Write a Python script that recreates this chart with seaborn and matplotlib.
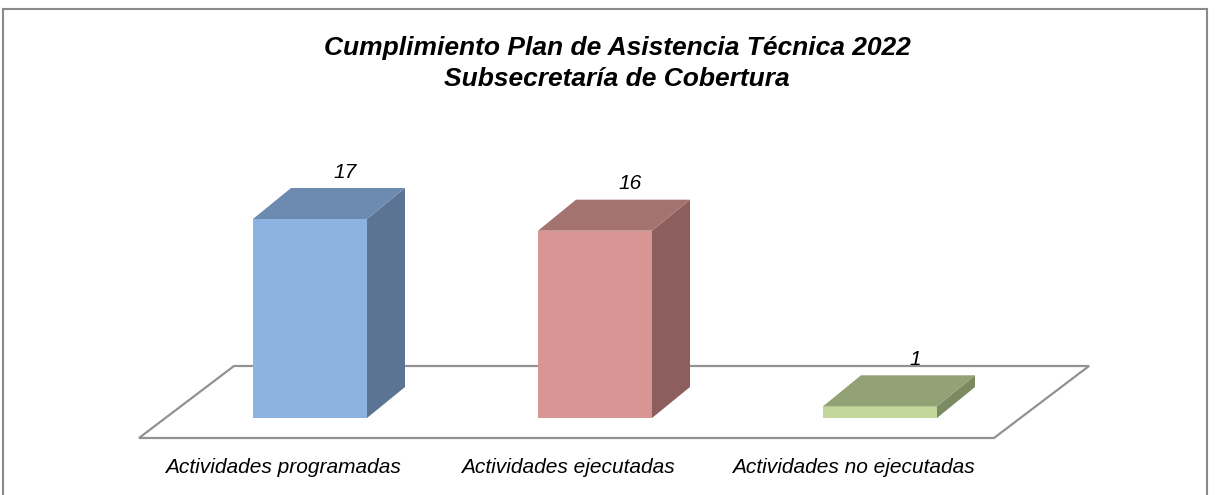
import matplotlib
matplotlib.use("Agg")
import matplotlib.pyplot as plt
import seaborn as sns
from matplotlib.patches import Polygon, Rectangle
from matplotlib.transforms import ScaledTranslation

# ---- data ----
categories = ["Actividades programadas", "Actividades ejecutadas", "Actividades no ejecutadas"]
values = [17, 16, 1]
front_colors = ["#8DB3E2", "#D99594", "#C3D69B"]
top_colors = ["#6D8AB0", "#A5736F", "#92A274"]
side_colors = ["#5B7494", "#8C5F5E", "#7C8A62"]
title_lines = ["Cumplimiento Plan de Asistencia Técnica 2022", "Subsecretaría de Cobertura"]

# ---- layout (pixels at dpi 100) ----
W, H, DPI = 1215, 495, 100
cat_step = 285.0          # px between category centers
first_center = 310.0      # px of first bar center
base_y = 418.0            # px from top for value 0
ppu = 199.0 / 17.0        # px per value unit
ymax = 20
depth_dx, depth_dy = 38.0, 31.0  # bar depth offset (px)

sns.set_theme(style="white")
plt.rcParams["font.family"] = ["Liberation Sans", "DejaVu Sans"]
plt.rcParams["text.color"] = "black"
plt.rcParams["xtick.color"] = "black"

fig = plt.figure(figsize=(W / DPI, H / DPI), dpi=DPI)
ax_left = first_center - cat_step / 2
ax_w = cat_step * len(categories)
ax_h = ppu * ymax
ax = fig.add_axes([ax_left / W, (H - base_y) / H, ax_w / W, ax_h / H])

sns.barplot(x=categories, y=values, hue=categories, palette=front_colors,
            width=0.4, saturation=1, legend=False, ax=ax, zorder=3, linewidth=0)
ax.set_xlim(-0.5, len(categories) - 0.5)
ax.set_ylim(0, ymax)

ddx = depth_dx / cat_step
ddy = depth_dy / ppu

# floor parallelogram
floor_pad = 0.1
fx0, fx1 = -0.5 - floor_pad, len(categories) - 0.5 - floor_pad
fy = -20.0 / ppu
fbx, fby = 95.0 / cat_step, 72.0 / ppu
floor = Polygon([(fx0, fy), (fx1, fy), (fx1 + fbx, fy + fby), (fx0 + fbx, fy + fby)],
                closed=True, fill=False, edgecolor="#929292", lw=1.6,
                clip_on=False, zorder=1)
ax.add_patch(floor)

# 3D faces
for p, tc, sc in zip(ax.patches[:len(values)], top_colors, side_colors):
    x0, w, h = p.get_x(), p.get_width(), p.get_height()
    side = Polygon([(x0 + w, 0), (x0 + w, h), (x0 + w + ddx, h + ddy), (x0 + w + ddx, ddy)],
                   closed=True, facecolor=sc, edgecolor="none", clip_on=False, zorder=3)
    top = Polygon([(x0, h), (x0 + w, h), (x0 + w + ddx, h + ddy), (x0 + ddx, h + ddy)],
                  closed=True, facecolor=tc, edgecolor="none", clip_on=False, zorder=3)
    ax.add_patch(side)
    ax.add_patch(top)
    p.set_clip_on(False)

# value labels
lab_tr = ax.transData + ScaledTranslation(0.35, 0.47, fig.dpi_scale_trans)
for i, v in enumerate(values):
    ax.text(i, v, str(v), transform=lab_tr, ha="center", va="center",
            fontsize=15, fontstyle="italic", color="black", clip_on=False)

# axes styling
for s in ax.spines.values():
    s.set_visible(False)
ax.set_yticks([])
ax.set_ylabel("")
ax.set_xlabel("")
ax.tick_params(axis="x", length=0, pad=28.5)
for lbl in ax.get_xticklabels():
    lbl.set_fontsize(15)
    lbl.set_fontstyle("italic")
    lbl.set_color("black")
    lbl.set_transform(lbl.get_transform() + ScaledTranslation(-0.27, 0, fig.dpi_scale_trans))

# title
fig.text(617 / W, 1 - 48 / H, title_lines[0], ha="center", va="center",
         fontsize=19, fontweight="bold", fontstyle="italic", color="black")
fig.text(617 / W, 1 - 79 / H, title_lines[1], ha="center", va="center",
         fontsize=19, fontweight="bold", fontstyle="italic", color="black")

# outer border
fig.add_artist(Rectangle((3 / W, -0.1), (1207 - 3) / W, 1 - 9 / H + 0.1,
                         transform=fig.transFigure, fill=False,
                         edgecolor="#8a8a8a", lw=1.5))

fig.savefig("out.png", dpi=DPI)
